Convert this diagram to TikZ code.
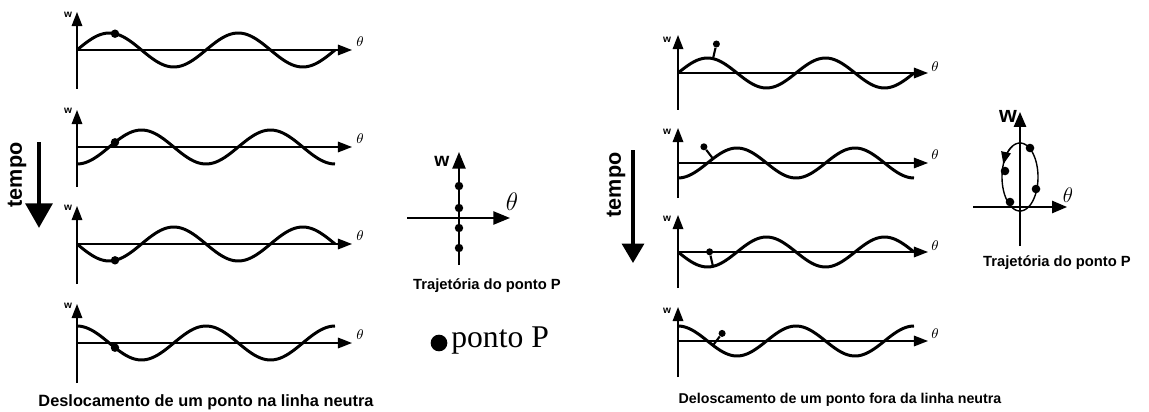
\documentclass[tikz,border=0pt]{standalone}
\usepackage{fontspec}
\setmainfont{Liberation Sans}
\newfontfamily\timesfont{Liberation Serif}
\usetikzlibrary{arrows.meta}
\tikzstyle{wave} = [line width=1.7pt, line join=round]
\tikzstyle{axis} = [line width=0.9pt, -{Triangle[length=8pt,width=6pt]}]

\begin{document}
\begin{tikzpicture}[x=0.02cm, y=-0.02cm,
    pdot/.style={circle, fill=black, inner sep=0pt, minimum size=4.8pt},
    pinhead/.style={circle, fill=black, inner sep=0pt, minimum size=4pt},
    pin/.style={line width=1.2pt},
    wlab/.style={font=\bfseries\fontsize{5.8}{6}\selectfont, inner sep=0pt},
    tlab/.style={font=\fontsize{8}{9}\selectfont, inner sep=0pt},
    caption/.style={font=\bfseries\fontsize{9.3}{11}\selectfont, inner sep=0pt},
    trajlab/.style={font=\bfseries\fontsize{8.4}{10}\selectfont, inner sep=0pt},
    bigaxis/.style={line width=1.1pt, -{Triangle[length=9.5pt,width=7.5pt]}},
    timearrow/.style={line width=2.8pt, -{Triangle[length=14pt,width=15pt]}}]
    \useasboundingbox (0,0) rectangle (1149,412);

    % Left panel - point on the neutral line
    \coordinate (L1) at (77,50);
    \coordinate (L2) at (77,147);
    \coordinate (L3) at (77,244);
    \coordinate (L4) at (77,343);
    \draw[axis] (L1) ++(0,39) -- ++(0,-77);
    \draw[axis] (L1) -- ++(275,0);
    \draw[axis] (L2) ++(0,40) -- ++(0,-77);
    \draw[axis] (L2) -- ++(275,0);
    \draw[axis] (L3) ++(0,40) -- ++(0,-78);
    \draw[axis] (L3) -- ++(275,0);
    \draw[axis] (L4) ++(0,40) -- ++(0,-79);
    \draw[axis] (L4) -- ++(275,0);
    \draw[wave] plot[domain=77:335, samples=90] (\x, {50-17*sin(2.7907*(\x-77))});
    \draw[wave] plot[domain=77:335, samples=90] (\x, {147-17*sin(2.7907*(\x-77)-90)});
    \draw[wave] plot[domain=77:335, samples=90] (\x, {244-17*sin(2.7907*(\x-77)-180)});
    \draw[wave] plot[domain=77:335, samples=90] (\x, {343-17*sin(2.7907*(\x-77)-270)});
    \node[pdot] (P1) at (115,33.7) {};
    \node[pdot] (P2) at (115,142.3) {};
    \node[pdot] (P3) at (115,260.3) {};
    \node[pdot] (P4) at (115,347.7) {};
    \node[wlab] (L1w) at (68,15) {w};
    \node[wlab] (L2w) at (68,111) {w};
    \node[wlab] (L3w) at (68,208) {w};
    \node[wlab] (L4w) at (68,306) {w};
    \node[tlab] (L1t) at (360,42) {$\theta$};
    \node[tlab] (L2t) at (360,139) {$\theta$};
    \node[tlab] (L3t) at (360,236) {$\theta$};
    \node[tlab] (L4t) at (360,335) {$\theta$};

    % Left time arrow
    \coordinate (LT1) at (39,142);
    \coordinate (LT2) at (39,228);
    \draw[timearrow] (LT1) -- (LT2);
    \node[rotate=90, font=\bfseries\fontsize{12.3}{14}\selectfont, inner sep=0pt] (Ltempo) at (17,175) {tempo};

    % Left trajectory of P
    \coordinate (LO) at (459,218);
    \draw[bigaxis] (LO) ++(0,47) -- ++(0,-113);
    \draw[bigaxis] (LO) ++(-52,0) -- ++(103,0);
    \node[pdot] (LP1) at (459,186) {};
    \node[pdot] (LP2) at (459,208) {};
    \node[pdot] (LP3) at (459,228) {};
    \node[pdot] (LP4) at (459,248) {};
    \node[font=\bfseries\fontsize{11}{12}\selectfont, inner sep=0pt] (LOw) at (442,161) {w};
    \node[font=\fontsize{13.7}{15}\selectfont, inner sep=0pt] (LOt) at (512,202) {$\theta$};
    \node[trajlab] (Ltraj) at (487,286) {Trajetória do ponto P};

    % Legend
    \node[circle, fill=black, inner sep=0pt, minimum size=9.5pt] (legdot) at (439,343) {};
    \node[font=\timesfont\fontsize{18}{20}\selectfont, anchor=west, inner sep=0pt] (legtxt) at (451,341) {ponto P};

    % Left caption
    \node[caption] (Lcap) at (206,402) {Deslocamento de um ponto na linha neutra};

    % Right panel - point off the neutral line
    \coordinate (R1) at (678,73);
    \coordinate (R2) at (678,163);
    \coordinate (R3) at (678,252);
    \coordinate (R4) at (678,341);
    \draw[axis] (R1) ++(0,37) -- ++(0,-75);
    \draw[axis] (R1) -- ++(250,0);
    \draw[axis] (R2) ++(0,35) -- ++(0,-70);
    \draw[axis, line width=0.6pt] (R2) -- ++(250,0);
    \draw[axis] (R3) ++(0,36) -- ++(0,-73);
    \draw[axis] (R3) -- ++(250,0);
    \draw[axis] (R4) ++(0,36) -- ++(0,-70);
    \draw[axis] (R4) -- ++(250,0);
    \draw[wave] plot[domain=678:914, samples=90] (\x, {73-15*sin(3.0508*(\x-678))});
    \draw[wave] plot[domain=678:914, samples=90] (\x, {163-15*sin(3.0508*(\x-678)-90)});
    \draw[wave] plot[domain=678:914, samples=90] (\x, {252-15*sin(3.0508*(\x-678)-180)});
    \draw[wave] plot[domain=678:914, samples=90] (\x, {341-15*sin(3.0508*(\x-678)-270)});
    \coordinate (B1) at (713,58.6);
    \coordinate (B2) at (713,158.7);
    \coordinate (B3) at (713,266.4);
    \coordinate (B4) at (713,345.3);
    \node[pinhead] (Q1) at (716.4,44.0) {};
    \node[pinhead] (Q2) at (703.9,146.8) {};
    \node[pinhead] (Q3) at (709.6,251.8) {};
    \node[pinhead] (Q4) at (722.1,333.4) {};
    \draw[pin] (B1) -- (Q1);
    \draw[pin] (B2) -- (Q2);
    \draw[pin] (B3) -- (Q3);
    \draw[pin] (B4) -- (Q4);
    \node[wlab] (R1w) at (667,40) {w};
    \node[wlab] (R2w) at (667,132) {w};
    \node[wlab] (R3w) at (667,219) {w};
    \node[wlab] (R4w) at (667,311) {w};
    \node[tlab] (R1t) at (935,67) {$\theta$};
    \node[tlab] (R2t) at (935,155) {$\theta$};
    \node[tlab] (R3t) at (935,246) {$\theta$};
    \node[tlab] (R4t) at (935,334) {$\theta$};

    % Right time arrow
    \coordinate (RT1) at (633,150);
    \coordinate (RT2) at (633,263);
    \draw[line width=1.8pt, -{Triangle[length=11pt,width=12.5pt]}] (RT1) -- (RT2);
    \node[rotate=90, font=\bfseries\fontsize{12.3}{14}\selectfont, inner sep=0pt] (Rtempo) at (616,185) {tempo};

    % Right trajectory of P
    \coordinate (RO) at (1020,207);
    \draw[line width=1pt, -{Triangle[length=8.5pt,width=7pt]}] (RO) ++(0,39) -- ++(0,-134);
    \draw[line width=1pt, -{Triangle[length=8.5pt,width=7pt]}] (RO) ++(-47,0) -- ++(94,0);
    \draw[line width=0.8pt] plot[domain=0:360, samples=90] ({1020+18*cos(\x)}, {177-34*sin(\x)});
    \draw[line width=0.8pt, -{Triangle[length=7pt,width=5.5pt]}] plot[domain=115:158, samples=20] ({1020+18*cos(\x)}, {177-34*sin(\x)});
    \node[pdot, minimum size=4.9pt] (RP1) at (1030,148) {};
    \node[pdot, minimum size=4.9pt] (RP2) at (1005,171) {};
    \node[pdot, minimum size=4.9pt] (RP3) at (1036,189) {};
    \node[pdot, minimum size=4.9pt] (RP4) at (1010,202) {};
    \node[font=\bfseries\fontsize{13}{14}\selectfont, inner sep=0pt] (ROw) at (1008,116) {w};
    \node[font=\fontsize{12}{14}\selectfont, inner sep=0pt] (ROt) at (1068,195) {$\theta$};
    \node[trajlab] (Rtraj) at (1057,263) {Trajetória do ponto P};

    % Right caption
    \node[caption, font=\bfseries\fontsize{8.1}{10}\selectfont] (Rcap) at (840,400) {Deloscamento de um ponto fora da linha neutra};
\end{tikzpicture}
\end{document}
